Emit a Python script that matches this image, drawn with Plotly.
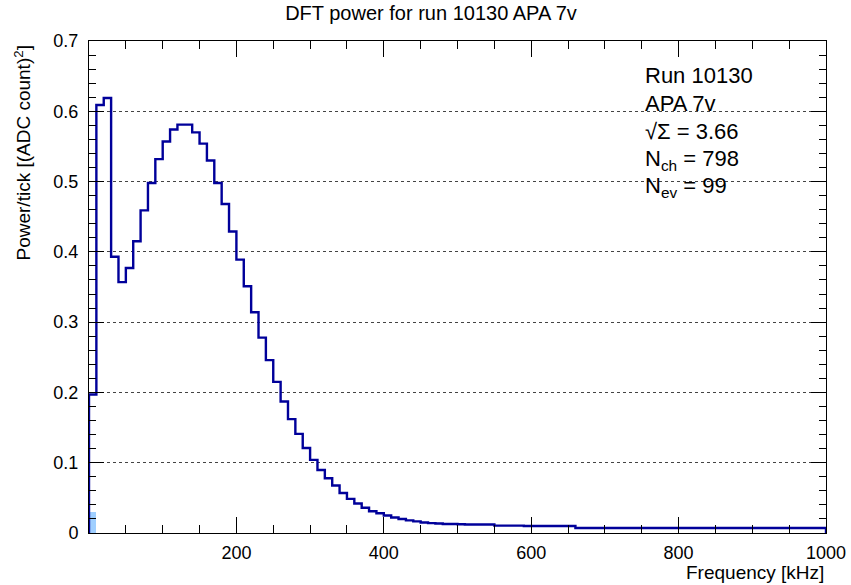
import numpy as np
import plotly.graph_objects as go

# ---- data ----
bin_width_khz = 10
power = [
    0.197, 0.609, 0.619, 0.393, 0.357, 0.377, 0.415, 0.459, 0.498, 0.532,
    0.557, 0.574, 0.581, 0.581, 0.570, 0.554, 0.530, 0.498, 0.468, 0.429,
    0.389, 0.351, 0.314, 0.278, 0.246, 0.215, 0.187, 0.162, 0.141, 0.121,
    0.104, 0.0896, 0.0778, 0.0675, 0.057, 0.0486, 0.042, 0.036, 0.031, 0.028,
    0.025, 0.022, 0.020, 0.018, 0.0165, 0.015, 0.014, 0.0135, 0.0128, 0.0128,
    0.0125, 0.012, 0.012, 0.012, 0.012, 0.0105, 0.0105, 0.0105, 0.0105, 0.010,
    0.010, 0.010, 0.010, 0.010, 0.010, 0.010,
] + [0.0072] * 34
low_bin_fill = [0.030]
x_tick_vals = [0, 200, 400, 600, 800, 1000]
x_tick_text = ["", "200", "400", "600", "800", "1000"]
y_tick_vals = [0, 0.1, 0.2, 0.3, 0.4, 0.5, 0.6, 0.7]
y_tick_text = ["0", "0.1", "0.2", "0.3", "0.4", "0.5", "0.6", "0.7"]
info_lines = ["Run 10130", "APA 7v", "√Σ = 3.66", "N<sub>ch</sub> = 798", "N<sub>ev</sub> = 99"]

edges = np.arange(len(power) + 1) * bin_width_khz
xs = [edges[0]] + list(edges[:-1]) + [edges[-1], edges[-1]]
ys = [0] + list(power) + [power[-1], 0]

FONT = "Liberation Sans, Arial, Helvetica, sans-serif"
W, H = 851, 585
L, R, T, B = 89, 25, 41, 52
PW, PH = W - L - R, H - T - B

def px_to_paper_x(px):
    return (px - L) / PW

def px_to_paper_y(py):
    return (H - B - py) / PH

fig = go.Figure()
fig.add_trace(go.Bar(
    x=[edges[0] + bin_width_khz / 2], y=low_bin_fill, width=[bin_width_khz],
    marker=dict(color="#9fcfff", line=dict(width=0)), showlegend=False,
    hoverinfo="skip"))
fig.add_trace(go.Scatter(
    x=xs, y=ys, mode="lines", line=dict(color="#00009a", width=2.4, shape="hv"),
    showlegend=False))

axis_common = dict(
    showline=True, linecolor="black", linewidth=1, mirror="ticks",
    ticks="inside", tickcolor="black", tickwidth=1, automargin=False,
    zeroline=False, tickfont=dict(family=FONT, size=18, color="black"),
)
fig.update_xaxes(
    range=[0, 1000], tickmode="array", tickvals=x_tick_vals, ticktext=x_tick_text,
    ticklen=16, showgrid=False, ticklabelstandoff=3,
    minor=dict(tickmode="linear", tick0=0, dtick=50, ticklen=8, ticks="inside",
               tickcolor="black", showgrid=False),
    **axis_common)
fig.update_yaxes(
    range=[0, 0.7], tickmode="array", tickvals=y_tick_vals, ticktext=y_tick_text,
    ticklen=15, showgrid=True, gridcolor="#444", griddash="dot", gridwidth=1,
    ticklabelstandoff=6,
    minor=dict(tickmode="linear", tick0=0, dtick=0.02, ticklen=7, ticks="inside",
               tickcolor="black", showgrid=False),
    **axis_common)

annotations = []
ys_info = [75.5, 103.5, 131.5, 160, 187.5]
for txt, yp in zip(info_lines, ys_info):
    annotations.append(dict(
        text=txt, x=px_to_paper_x(643), y=px_to_paper_y(yp), xref="paper", yref="paper",
        xanchor="left", yanchor="middle", showarrow=False,
        font=dict(family=FONT, size=22, color="black")))
annotations.append(dict(
    text="Frequency [kHz]", x=1, y=px_to_paper_y(572), xref="paper", yref="paper",
    xanchor="right", yanchor="middle", showarrow=False,
    font=dict(family=FONT, size=19, color="black")))
annotations.append(dict(
    text="Power/tick [(ADC count)<sup>2</sup>]", x=px_to_paper_x(22), y=px_to_paper_y(44),
    xref="paper", yref="paper", xanchor="center", yanchor="top", textangle=-90,
    showarrow=False, font=dict(family=FONT, size=19, color="black")))

fig.update_layout(
    width=W, height=H,
    margin=dict(l=L, r=R, t=T, b=B, autoexpand=False),
    paper_bgcolor="white", plot_bgcolor="white",
    title=dict(text="DFT power for run 10130 APA 7v", x=431 / W, xref="container",
               xanchor="center", y=1 - 12.5 / H, yref="container", yanchor="middle",
               font=dict(family=FONT, size=20, color="black"), automargin=False),
    annotations=annotations,
    bargap=0,
)

fig.write_html("out.html", config={"displayModeBar": False},
               post_script="document.body.style.margin='0';")
